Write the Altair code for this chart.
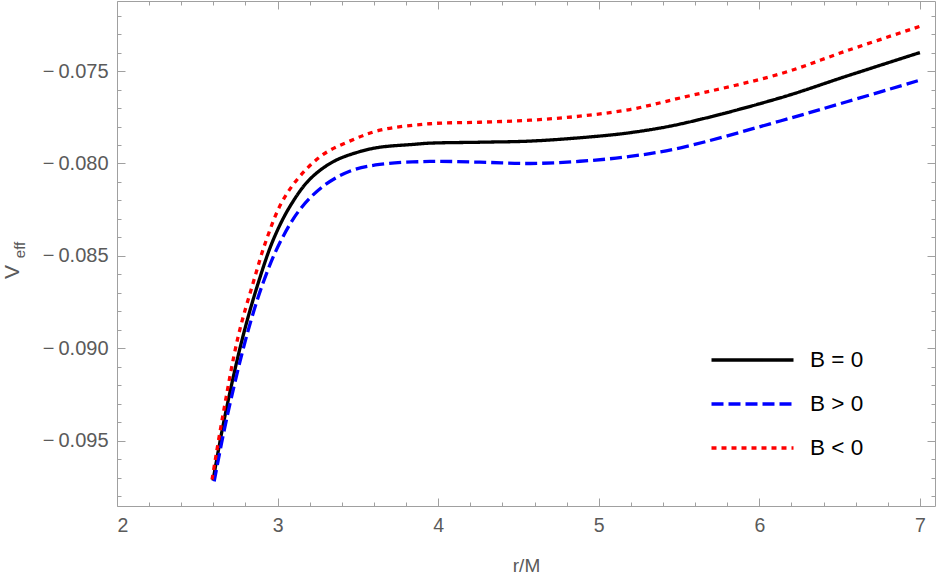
import altair as alt
import pandas as pd

series_labels = ["B = 0", "B > 0", "B < 0"]
series_colors = ["#000000", "#0000ff", "#ff0000"]
series_dashes = [[1, 0], [12, 5], [5, 5]]

r_b0 = [2.598, 2.668, 2.78, 2.88, 2.974, 3.078, 3.2, 3.347, 3.515, 3.638, 3.84, 3.95, 4.26, 4.57, 4.88, 5.19, 5.51, 6.13, 6.545, 7.0]
v_b0 = [-0.09715, -0.09384, -0.0895, -0.08645, -0.08411, -0.08231, -0.08086, -0.0799, -0.07935, -0.07912,
        -0.07897, -0.0789, -0.07885, -0.07879, -0.07861, -0.07834, -0.07786, -0.07645, -0.07527, -0.0740]

r_bpos = [2.605, 2.682, 2.807, 2.91, 3.014, 3.139, 3.284, 3.449, 3.636, 3.949, 4.26, 4.572, 4.883, 5.194, 5.51, 6.13, 6.545, 7.0]
v_bpos = [-0.0972, -0.09384, -0.08934, -0.08645, -0.08429, -0.08249, -0.08123, -0.08042, -0.08005, -0.07989,
          -0.07993, -0.0800, -0.07988, -0.07962, -0.07915, -0.0777, -0.07666, -0.07549]

r_bneg = [2.592, 2.655, 2.755, 2.848, 2.931, 3.025, 3.139, 3.284, 3.449, 3.638, 3.949, 4.26, 4.572, 4.883, 5.194, 5.51, 6.13, 6.545, 7.0]
v_bneg = [-0.0971, -0.09384, -0.08934, -0.08645, -0.08411, -0.08212, -0.08069, -0.07951, -0.07879, -0.0782,
          -0.07785, -0.07777, -0.07766, -0.07744, -0.07708, -0.07645, -0.07515, -0.0739, -0.07258]

x_major = [2, 3, 4, 5, 6, 7]
x_minor = [2.2, 2.4, 2.6, 2.8, 3.2, 3.4, 3.6, 3.8, 4.2, 4.4, 4.6, 4.8,
           5.2, 5.4, 5.6, 5.8, 6.2, 6.4, 6.6, 6.8]
y_major = [-0.095, -0.090, -0.085, -0.080, -0.075]
y_minor = [-0.098, -0.097, -0.096, -0.094, -0.093, -0.092, -0.091, -0.089, -0.088, -0.087,
           -0.086, -0.084, -0.083, -0.082, -0.081, -0.079, -0.078, -0.077, -0.076, -0.074,
           -0.073, -0.072]

x_domain = [2.0, 7.094]
y_domain = [-0.09853, -0.07121]

df = pd.concat([
    pd.DataFrame({"r": r_b0, "V": v_b0, "B": series_labels[0]}),
    pd.DataFrame({"r": r_bpos, "V": v_bpos, "B": series_labels[1]}),
    pd.DataFrame({"r": r_bneg, "V": v_bneg, "B": series_labels[2]}),
], ignore_index=True)

FONT = "Liberation Sans"
GREY = "#a0a0a0"
LABEL = "#5a5a5a"

xs = alt.Scale(domain=x_domain, nice=False, zero=False)
ys = alt.Scale(domain=y_domain, nice=False, zero=False)


def tick_axis(orient, values, size, labels=False, **kw):
    return alt.Axis(orient=orient, values=values, offset=-size, tickSize=size,
                    labels=labels, domain=False, grid=False, **kw)


legend = alt.Legend(
    title=None, orient="none", legendX=592.5, legendY=344, padding=0,
    symbolType="stroke", symbolSize=6724, symbolStrokeWidth=3.3,
    labelFontSize=22.5, labelFont=FONT, labelColor="#000000", labelOffset=14.5,
    rowPadding=14, clipHeight=30,
)

lines = alt.Chart(df).mark_line(strokeWidth=3.3, interpolate="catmull-rom", strokeCap="butt").encode(
    x=alt.X("r:Q", scale=xs, axis=tick_axis("bottom", x_major, 8, labels=True, format="d",
                                           labelPadding=10, title="r/M", titlePadding=22)),
    y=alt.Y("V:Q", scale=ys, axis=tick_axis(
        "left", y_major, 8, labels=True, labelPadding=9, title=None, labelFontSize=20,
        labelExpr="'\u2212\u2009' + format(-datum.value, '.3f')")),
    color=alt.Color("B:N", scale=alt.Scale(domain=series_labels, range=series_colors), legend=legend),
    strokeDash=alt.StrokeDash("B:N", scale=alt.Scale(domain=series_labels, range=series_dashes), legend=legend),
)


def ghost(xaxis, yaxis):
    return alt.Chart(df).mark_point(opacity=0).encode(
        x=alt.X("r:Q", scale=xs, axis=xaxis),
        y=alt.Y("V:Q", scale=ys, axis=yaxis),
    )


g1 = ghost(tick_axis("top", x_major, 8, title=None), tick_axis("right", y_major, 8, title=None))
g2 = ghost(tick_axis("bottom", x_minor, 4, title=None), tick_axis("left", y_minor, 4, title=None))
g3 = ghost(tick_axis("top", x_minor, 4, title=None), tick_axis("right", y_minor, 4, title=None))

title_v = alt.Chart(pd.DataFrame({"t": ["V"]})).mark_text(
    angle=270, fontSize=21, font=FONT, color=LABEL, align="center", baseline="middle"
).encode(x=alt.value(-104), y=alt.value(271), text="t:N")
title_eff = alt.Chart(pd.DataFrame({"t": ["eff"]})).mark_text(
    angle=270, fontSize=15, font=FONT, color=LABEL, align="center", baseline="middle"
).encode(x=alt.value(-97.5), y=alt.value(249), text="t:N")

chart = alt.layer(lines, g1, g2, g3, title_v, title_eff).resolve_axis(
    x="independent", y="independent"
).properties(
    width=818, height=505,
    padding={"left": 117, "top": 1, "right": 3, "bottom": 76},
    autosize=alt.AutoSizeParams(type="none"),
).configure_view(
    stroke=GREY, strokeWidth=1
).configure_axis(
    tickColor=GREY, tickWidth=1, labelColor=LABEL, labelFont=FONT, labelFontSize=19.5,
    titleFont=FONT, titleFontSize=19, titleColor=LABEL, titleFontWeight="normal",
)

chart.save("out.html", embed_options={"renderer": "svg", "actions": False})
